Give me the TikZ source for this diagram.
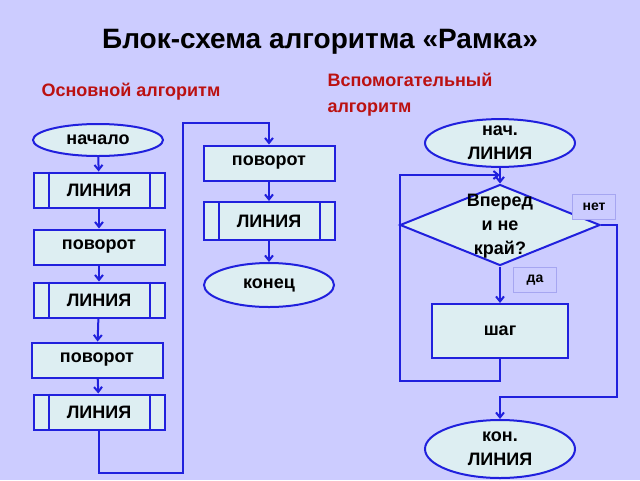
\documentclass[tikz,border=0pt]{standalone}
\usepackage{fontspec}
\setmainfont{Liberation Sans}
\usetikzlibrary{shapes.geometric,arrows.meta}
\definecolor{bg}{HTML}{CCCCFF}
\definecolor{nf}{HTML}{DDEEF2}
\definecolor{bl}{HTML}{2020DD}
\definecolor{dr}{HTML}{BB1111}
\begin{document}
\begin{tikzpicture}[x=1pt,y=-1pt,
  box/.style={draw=bl,fill=nf,line width=2pt,minimum width=#1,inner sep=0pt,font=\bfseries\fontsize{18}{20}\selectfont},
  proc/.style={box=131pt,minimum height=35pt},
  ell/.style={box=#1,ellipse},
  lbl/.style={draw=bl!40,fill=bg,line width=0.8pt,minimum width=43pt,minimum height=25pt,font=\bfseries\fontsize{14}{16}\selectfont},
  fl/.style={draw=bl,line width=2pt},
  ar/.style={fl,-{Straight Barb[length=5pt,width=8pt]}}]
\fill[bg] (0,0) rectangle (640,480);
\node[font=\bfseries\fontsize{28}{32}\selectfont] (title) at (320,42) {Блок-схема алгоритма «Рамка»};
\node[anchor=west,text=dr,font=\bfseries\fontsize{18}{20}\selectfont] (s1) at (38,92) {Основной алгоритм};
\node[anchor=north west,text=dr,align=left,font=\bfseries\fontsize{18}{26}\selectfont] (s2) at (324,70) {Вспомогательный\\алгоритм};
% left column
\node[ell=130pt,minimum height=32pt] (n0) at (98,140) {начало};
\node[proc] (l1) at (99,190) {ЛИНИЯ};
\node[proc] (p1) at (99,247) {поворот};
\node[proc] (l2) at (99,300) {ЛИНИЯ};
\node[proc] (p2) at (97,360) {поворот};
\node[proc] (l3) at (99,412) {ЛИНИЯ};
\foreach \n in {l1,l2,l3}{
  \draw[fl] ([xshift=16pt]\n.north west) -- ([xshift=16pt]\n.south west);
  \draw[fl] ([xshift=-16pt]\n.north east) -- ([xshift=-16pt]\n.south east);}
% middle column
\node[proc] (p3) at (269,163) {поворот};
\node[proc,minimum height=38pt] (l4) at (269,221) {ЛИНИЯ};
\draw[fl] ([xshift=16pt]l4.north west) -- ([xshift=16pt]l4.south west);
\draw[fl] ([xshift=-16pt]l4.north east) -- ([xshift=-16pt]l4.south east);
\node[ell=130pt,minimum height=44pt] (e1) at (269,285) {конец};
\draw[ar] (n0) -- (l1);
\draw[ar] (l1) -- (p1);
\draw[ar] (p1) -- (l2);
\draw[ar] (l2) -- (p2);
\draw[ar] (p2) -- (l3);
\draw[ar] (l3.south) -- (99,473) -- (183,473) -- (183,123) -- (269,123) -- (p3.north);
\draw[ar] (p3) -- (l4);
\draw[ar] (l4) -- (e1);
% right
\node[ell=150pt,minimum height=46pt,align=center,font=\bfseries\fontsize{18}{24}\selectfont] (s) at (500,143) {нач.\\ЛИНИЯ};
\node[draw=bl,fill=nf,line width=2pt,diamond,minimum width=200pt,minimum height=81pt,inner sep=0pt] (d) at (500,225) {};
\node[align=center,font=\bfseries\fontsize{18}{24}\selectfont] (dt) at (500,226) {Вперед\\и не\\край?};
\node[proc,minimum width=136pt,minimum height=54pt] (sh) at (500,331) {шаг};
\node[ell=150pt,minimum height=58pt,align=center,font=\bfseries\fontsize{18}{24}\selectfont] (k) at (500,449) {кон.\\ЛИНИЯ};
\node[lbl] (net) at (594,207) {нет};
\node[lbl] (da) at (535,280) {да};
\coordinate (m) at (500,175);
\draw[ar] (s) -- (d.north);
\draw[ar] (d.south) -- (sh.north);
\draw[ar] (sh.south) -- (500,381) -- (400,381) -- (400,175) -- (m);
\draw[ar] (d.east) -- (617,225) -- (617,397) -- (500,397) -- (k.north);
\end{tikzpicture}
\end{document}
